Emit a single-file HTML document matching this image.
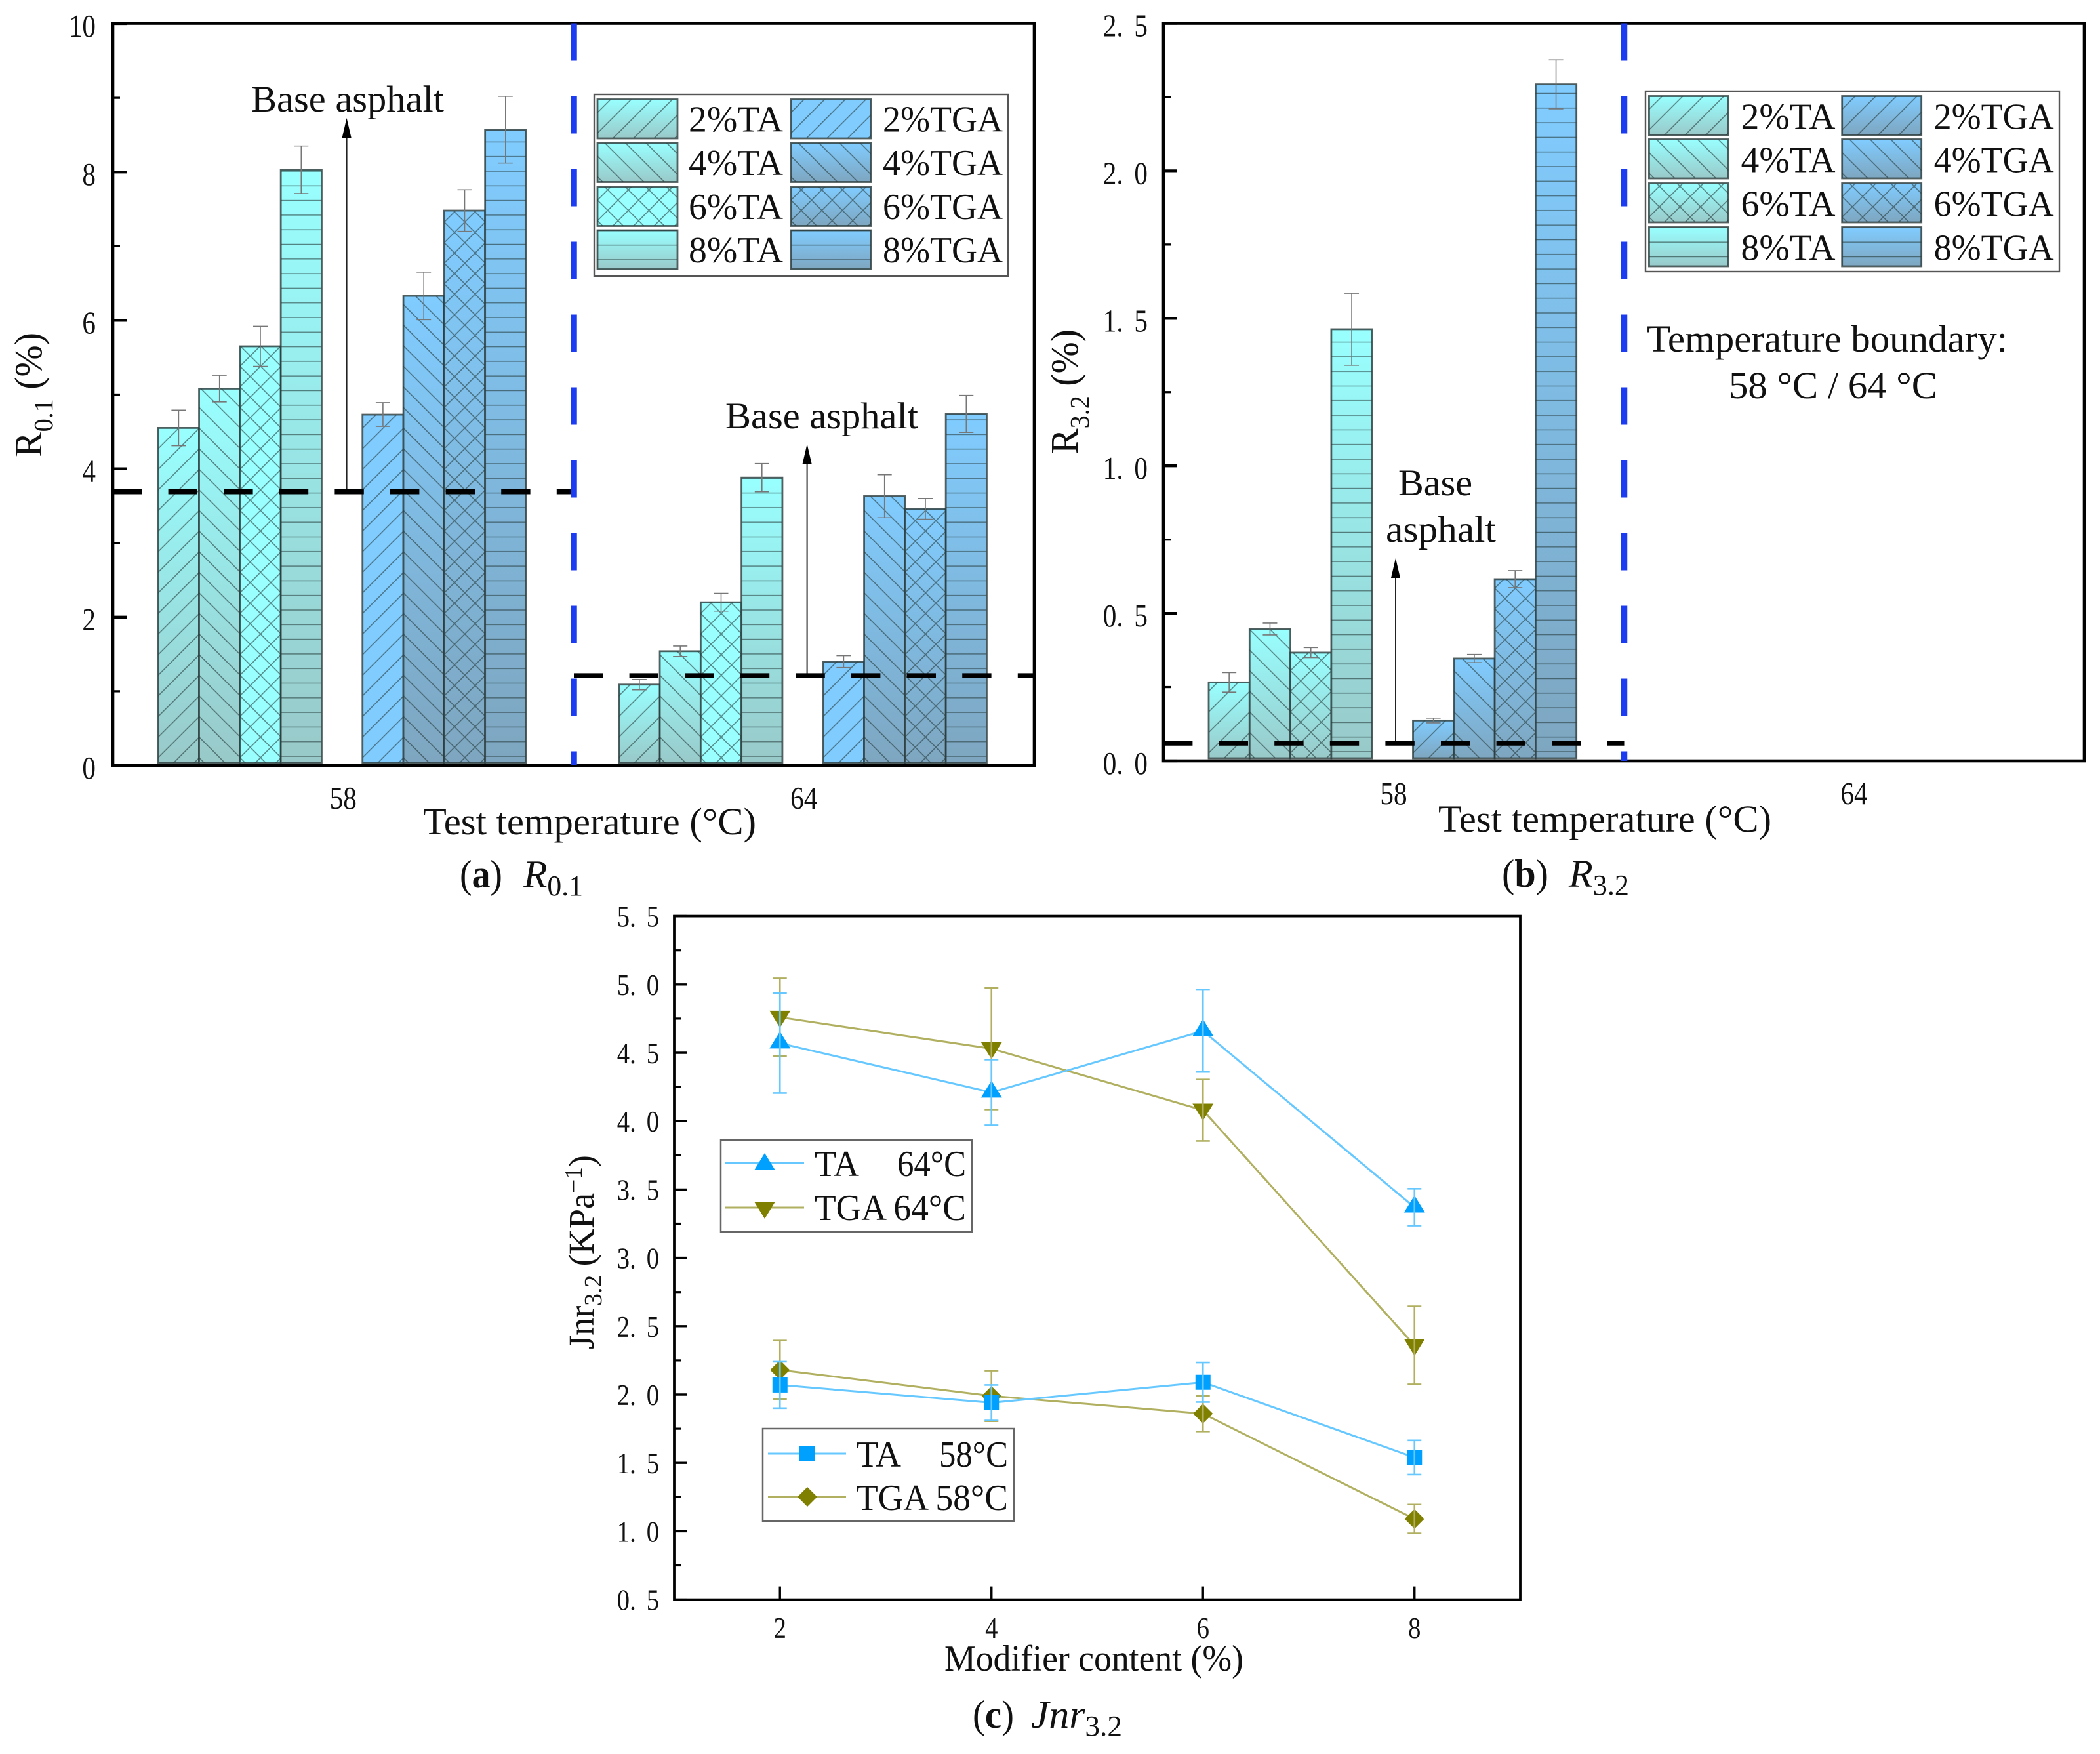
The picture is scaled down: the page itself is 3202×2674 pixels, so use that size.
<!DOCTYPE html>
<html lang="en">
<head>
<meta charset="utf-8">
<title>R0.1, R3.2 and Jnr3.2 of TA and TGA modified asphalt</title>
<style>
html,body{margin:0;padding:0;background:#fff}
svg{display:block}
text{font-family:"Liberation Serif","Noto Serif CJK SC",serif;fill:#111}
</style>
</head>
<body>
<svg id="fig" xmlns="http://www.w3.org/2000/svg" width="3202" height="2674" viewBox="0 0 3202 2674">
<defs id="defs">
<linearGradient id="g-ta" x1="0" y1="0" x2="0" y2="1"><stop offset="0" stop-color="#99ffff"/><stop offset="1" stop-color="#99c9c9"/></linearGradient>
<linearGradient id="g-tga" x1="0" y1="0" x2="0" y2="1"><stop offset="0" stop-color="#80ccff"/><stop offset="1" stop-color="#7ea6c0"/></linearGradient>
</defs>
<rect width="3202" height="2674" fill="#fff"/>
<g id="panel-a"></g>
<g id="panel-b"></g>
<g id="panel-c"></g>

<!-- panel a static text -->
<text transform="translate(63,697) rotate(-90)" font-size="59" textLength="190" lengthAdjust="spacingAndGlyphs">R<tspan dy="17" font-size="41">0.1</tspan><tspan dy="-17"> (%)</tspan></text>
<text x="645" y="1272" font-size="58" textLength="508" lengthAdjust="spacingAndGlyphs">Test temperature (°C)</text>
<text x="383" y="170" font-size="57" textLength="294" lengthAdjust="spacingAndGlyphs">Base asphalt</text>
<text x="1106" y="653" font-size="57" textLength="294" lengthAdjust="spacingAndGlyphs">Base asphalt</text>
<text x="701" y="1353" font-size="60" textLength="65" lengthAdjust="spacingAndGlyphs">(<tspan font-weight="bold">a</tspan>)</text>
<text x="798" y="1353" font-size="60" font-style="italic" textLength="91" lengthAdjust="spacingAndGlyphs">R<tspan dy="12" font-size="44" font-style="normal">0.1</tspan></text>

<!-- panel b static text -->
<text transform="translate(1643,692) rotate(-90)" font-size="59" textLength="190" lengthAdjust="spacingAndGlyphs">R<tspan dy="17" font-size="41">3.2</tspan><tspan dy="-17"> (%)</tspan></text>
<text x="2193" y="1268" font-size="58" textLength="508" lengthAdjust="spacingAndGlyphs">Test temperature (°C)</text>
<text x="2132" y="755" font-size="57" textLength="113" lengthAdjust="spacingAndGlyphs">Base</text>
<text x="2113" y="826" font-size="57" textLength="168" lengthAdjust="spacingAndGlyphs">asphalt</text>
<text x="2511" y="536" font-size="58" textLength="550" lengthAdjust="spacingAndGlyphs">Temperature boundary:</text>
<text x="2636" y="607" font-size="58" textLength="318" lengthAdjust="spacingAndGlyphs">58 °C / 64 °C</text>
<text x="2290" y="1352" font-size="60" textLength="71" lengthAdjust="spacingAndGlyphs">(<tspan font-weight="bold">b</tspan>)</text>
<text x="2392" y="1352" font-size="60" font-style="italic" textLength="92" lengthAdjust="spacingAndGlyphs">R<tspan dy="12" font-size="44" font-style="normal">3.2</tspan></text>

<!-- panel c static text -->
<text transform="translate(905,2057) rotate(-90)" font-size="55" textLength="296" lengthAdjust="spacingAndGlyphs">Jnr<tspan dy="12" font-size="38">3.2</tspan><tspan dy="-12"> (KPa</tspan><tspan dy="-18" font-size="38">−1</tspan><tspan dy="18">)</tspan></text>
<text x="1440" y="2547" font-size="56" textLength="456" lengthAdjust="spacingAndGlyphs">Modifier content (%)</text>
<text x="1483" y="2634" font-size="60" textLength="63" lengthAdjust="spacingAndGlyphs">(<tspan font-weight="bold">c</tspan>)</text>
<text x="1572" y="2634" font-size="60" font-style="italic" textLength="139" lengthAdjust="spacingAndGlyphs">Jnr<tspan dy="12" font-size="44" font-style="normal">3.2</tspan></text>

<!-- panel c legends -->
<g>
<rect x="1099" y="1738" width="383" height="140" fill="#fff" stroke="#666" stroke-width="2.5"/>
<line x1="1106" y1="1773" x2="1226" y2="1773" stroke="#66c8ff" stroke-width="3"/>
<polygon points="1166,1758 1182,1784 1150,1784" fill="#00a0ff"/>
<text x="1242" y="1793" font-size="56" textLength="68" lengthAdjust="spacingAndGlyphs">TA</text>
<text x="1368" y="1793" font-size="56" textLength="105" lengthAdjust="spacingAndGlyphs">64°C</text>
<line x1="1106" y1="1841" x2="1226" y2="1841" stroke="#b0b060" stroke-width="3"/>
<polygon points="1150,1832 1182,1832 1166,1858" fill="#808000"/>
<text x="1242" y="1860" font-size="56" textLength="231" lengthAdjust="spacingAndGlyphs">TGA 64°C</text>
</g>
<g>
<rect x="1163" y="2178" width="383" height="141" fill="#fff" stroke="#666" stroke-width="2.5"/>
<line x1="1171" y1="2216" x2="1290" y2="2216" stroke="#66c8ff" stroke-width="3"/>
<rect x="1219" y="2205" width="24" height="23" fill="#00a0ff"/>
<text x="1306" y="2236" font-size="56" textLength="68" lengthAdjust="spacingAndGlyphs">TA</text>
<text x="1432" y="2236" font-size="56" textLength="105" lengthAdjust="spacingAndGlyphs">58°C</text>
<line x1="1171" y1="2282" x2="1290" y2="2282" stroke="#b0b060" stroke-width="3"/>
<polygon points="1231,2267 1246,2282 1231,2297 1216,2282" fill="#808000"/>
<text x="1306" y="2302" font-size="56" textLength="231" lengthAdjust="spacingAndGlyphs">TGA 58°C</text>
</g>
</svg>

<script>
// ---------- chart data ----------
const temperatureLabels = ['58', '64'];
const seriesNames = ['2%TA', '4%TA', '6%TA', '8%TA', '2%TGA', '4%TGA', '6%TGA', '8%TGA'];

const r01Values58 = [4.55, 5.08, 5.65, 8.03, 4.73, 6.33, 7.48, 8.57];
const r01Errors58 = [0.24, 0.18, 0.27, 0.32, 0.16, 0.32, 0.28, 0.45];
const r01Values64 = [1.09, 1.54, 2.20, 3.88, 1.40, 3.63, 3.46, 4.74];
const r01Errors64 = [0.07, 0.07, 0.12, 0.19, 0.08, 0.29, 0.14, 0.25];
const r01Base58 = 3.69;
const r01Base64 = 1.21;
const r01Ticks = [0, 2, 4, 6, 8, 10];
const r01Minor = [1, 3, 5, 7, 9];

const r32Values58 = [0.266, 0.447, 0.367, 1.463, 0.137, 0.347, 0.616, 2.293];
const r32Errors58 = [0.033, 0.020, 0.017, 0.122, 0.008, 0.014, 0.029, 0.083];
const r32Base58 = 0.06;
const r32Ticks = [0, 0.5, 1.0, 1.5, 2.0, 2.5];
const r32Minor = [0.25, 0.75, 1.25, 1.75, 2.25];

const modifierContent = [2, 4, 6, 8];
const jnrTa64 = [4.57, 4.21, 4.66, 3.37];
const jnrTa64Err = [0.365, 0.24, 0.30, 0.135];
const jnrTga64 = [4.76, 4.53, 4.08, 2.36];
const jnrTga64Err = [0.285, 0.445, 0.225, 0.285];
const jnrTa58 = [2.07, 1.94, 2.09, 1.54];
const jnrTa58Err = [0.17, 0.13, 0.145, 0.125];
const jnrTga58 = [2.18, 1.99, 1.86, 1.09];
const jnrTga58Err = [0.215, 0.185, 0.13, 0.105];
const jnrTicks = [0.5, 1.0, 1.5, 2.0, 2.5, 3.0, 3.5, 4.0, 4.5, 5.0, 5.5];
const jnrMinor = [0.75, 1.25, 1.75, 2.25, 2.75, 3.25, 3.75, 4.25, 4.75, 5.25];

// ---------- helpers ----------
const NS = 'http://www.w3.org/2000/svg';
const defs = document.getElementById('defs');
function mk(tag, attrs, parent) {
  const el = document.createElementNS(NS, tag);
  for (const k in attrs) el.setAttribute(k, attrs[k]);
  parent.appendChild(el);
  return el;
}
let patternId = 0;
const HATCH_DIAG = 31.4, HATCH_H = 22.3, HATCH_COLOR = '#263c3c';
// Hatch index: 0 = /, 1 = \, 2 = x, 3 = horizontal; anchored to the bar's bottom-left corner
function hatchPattern(kind, x, bottom, hOffset) {
  const id = 'hatch-' + (patternId++);
  const size = kind === 3 ? HATCH_H : HATCH_DIAG;
  const h = size;
  const py = kind === 3 ? bottom - hOffset : bottom - 8;
  const p = mk('pattern', {id: id, patternUnits: 'userSpaceOnUse', x: x, y: py, width: kind === 3 ? 40 : h, height: h}, defs);
  const slash = `M-1,${h + 1}L${h + 1},-1M-1,1L1,-1M${h - 1},${h + 1}L${h + 1},${h - 1}`;
  const back = `M-1,-1L${h + 1},${h + 1}M${h - 1},-1L${h + 1},1M-1,${h - 1}L1,${h + 1}`;
  let d = '';
  if (kind === 0) d = slash;
  if (kind === 1) d = back;
  if (kind === 2) d = slash + back;
  if (kind === 3) d = `M0,0H40M0,${h}H40`;
  mk('path', {d: d, stroke: HATCH_COLOR, 'stroke-width': 1.5, 'stroke-opacity': 0.62, fill: 'none'}, p);
  return id;
}
function seriesFill(i, solidSet) {
  if (solidSet.includes(i)) return i < 4 ? '#99ffff' : '#80ccff';
  return i < 4 ? 'url(#g-ta)' : 'url(#g-tga)';
}
function yTick(parent, scale, v, x0, len, sw) {
  const t = mk('line', {x1: x0, x2: x0 + len, y1: scale(v), y2: scale(v), stroke: '#000', 'stroke-width': sw}, parent);
  
  
}
function yTickLabel(parent, v, rightX, y, size, decimals, gap) {
  const t = mk('text', {transform: `translate(${rightX},${y}) scale(0.84,1)`, 'font-size': size, 'text-anchor': 'end'}, parent);
  
  
  if (decimals) {
    const parts = v.toFixed(1).split('.');
    t.appendChild(document.createTextNode(parts[0] + '.'));
    const s = mk('tspan', {dx: gap}, t);
    s.textContent = parts[1];
  } else {
    t.textContent = String(v);
  }
}
function errorBar(parent, x, yHi, yLo, color, sw, capW) {
  const g = mk('g', {stroke: color, 'stroke-width': sw}, parent);
  
  
  mk('line', {x1: x, x2: x, y1: yHi, y2: yLo}, g);
  mk('line', {x1: x - capW / 2, x2: x + capW / 2, y1: yHi, y2: yHi}, g);
  mk('line', {x1: x - capW / 2, x2: x + capW / 2, y1: yLo, y2: yLo}, g);
}
function barPanel(panel, o) {
  const band = i => o.left + (o.right - o.left) * (i + 0.5) / 2;
  const slot = j => (j < 4 ? -282 + j * 62.3 : 29.5 + (j - 4) * 62.3);
  const hatchKind = j => j % 4;
  const barW = 62.3;
  const bottom = o.y(0) - 4;

  o.groups.forEach((g, gi) => {
    g.values.forEach((v, j) => {
      const x = band(gi) + slot(j);
      const top = o.y(v);
      const fill = mk('rect', {x: x, y: top, width: barW, height: bottom - top, fill: seriesFill(j, o.solid)}, panel);
      
      
      const hatch = mk('rect', {x: x, y: top, width: barW, height: bottom - top,
        fill: 'url(#' + hatchPattern(hatchKind(j), x, bottom, 10) + ')',
        stroke: '#2c3c3c', 'stroke-width': 2.8, 'stroke-opacity': 0.82}, panel);
      
      
    });
    g.values.forEach((v, j) => {
      const xc = band(gi) + slot(j) + barW / 2;
      errorBar(panel, xc, o.y(v + g.errors[j]), o.y(v - g.errors[j]), '#777777', 1.6, 22);
    });
  });

  // arrows from base-asphalt line
  o.groups.forEach((g, gi) => {
    if (g.arrowX === undefined) return;
    const a = mk('line', {x1: g.arrowX, x2: g.arrowX, y1: o.y(g.base), y2: g.arrowTop + 20, stroke: '#222', 'stroke-width': 2}, panel);
    
    
    const h = mk('polygon', {points: `${g.arrowX},${g.arrowTop} ${g.arrowX + 7},${g.arrowTop + 30} ${g.arrowX - 7},${g.arrowTop + 30}`, fill: '#000'}, panel);
    
    
  });

  // base asphalt dashed reference
  o.groups.forEach((g, gi) => {
    if (g.base === undefined) return;
    const x1 = gi === 0 ? o.left : o.divider;
    const x2 = gi === 0 ? o.divider : o.right;
    const l = mk('line', {x1: x1, x2: x2, y1: o.y(g.base), y2: o.y(g.base), stroke: '#000', 'stroke-width': 7.6, 'stroke-dasharray': '44.4 40.2'}, panel);
    
    
  });

  // frame
  const fr = mk('rect', {x: o.left, y: o.top, width: o.right - o.left, height: o.y(0) - o.top, fill: 'none', stroke: '#000', 'stroke-width': 4.6}, panel);
  
  

  // divider
  const dv = mk('line', {x1: o.divider, x2: o.divider, y1: o.top, y2: o.y(0), stroke: '#1c3cf2', 'stroke-width': 9.5, 'stroke-dasharray': '57 54'}, panel);
  
  

  // ticks
  o.ticks.forEach(v => {
    yTick(panel, o.y, v, o.left, 21, 4.3);
    yTickLabel(panel, v, o.labelRight, o.y(v) + 20, 49, o.decimals, 20);
  });
  o.minor.forEach(v => yTick(panel, o.y, v, o.left, 11, 3.3));
  temperatureLabels.forEach((lab, i) => {
    const t = mk('text', {transform: `translate(${band(i)},${o.xLabelY}) scale(0.84,1)`, 'font-size': 49, 'text-anchor': 'middle'}, panel);
    
    
    t.textContent = lab;
  });

  // legend
  const L = o.legend;
  const box = mk('rect', {x: L.x, y: L.y, width: L.w, height: L.h, fill: '#fff', stroke: '#555', 'stroke-width': 2.4}, panel);
  
  
  seriesNames.forEach((name, j) => {
    const col = j < 4 ? 0 : 1;
    const row = j % 4;
    const sx = L.swatchX[col], sy = L.rowY[row];
    const bg = mk('rect', {x: sx, y: sy, width: L.swW, height: L.swH, fill: seriesFill(j, o.solid)}, panel);
    
    
    const sw = mk('rect', {x: sx, y: sy, width: L.swW, height: L.swH,
      fill: 'url(#' + hatchPattern(hatchKind(j), sx, sy + L.swH, 14.5) + ')',
      stroke: '#2c3c3c', 'stroke-width': 2.8, 'stroke-opacity': 0.82}, panel);
    
    
    const t = mk('text', {x: L.textX[col], y: sy + L.baseline, 'font-size': 56, textLength: col ? 183 : 144, lengthAdjust: 'spacingAndGlyphs'}, panel);
    
    
    t.textContent = name;
  });
}

// ---------- panel (a) ----------
const yA = v => 1167 - v * 113.1;
barPanel(document.getElementById('panel-a'), {
  left: 172, right: 1577, top: 35.5, y: yA, divider: 875, labelRight: 146, xLabelY: 1233,
  ticks: r01Ticks, minor: r01Minor, decimals: false, solid: [2, 4],
  groups: [
    {values: r01Values58, errors: r01Errors58, base: r01Base58, arrowX: 528.6, arrowTop: 180},
    {values: r01Values64, errors: r01Errors64, base: r01Base64, arrowX: 1230.6, arrowTop: 677}
  ],
  legend: {x: 906, y: 144, w: 631, h: 277, swatchX: [911, 1206], rowY: [151.5, 218, 285, 351], swW: 122, swH: 59.5, textX: [1050, 1346], baseline: 49}
});

// ---------- panel (b) ----------
const yB = v => 1160 - v * 449.8;
barPanel(document.getElementById('panel-b'), {
  left: 1774, right: 3178, top: 35.5, y: yB, divider: 2476.5, labelRight: 1750, xLabelY: 1226,
  ticks: r32Ticks, minor: r32Minor, decimals: true, solid: [],
  groups: [
    {values: r32Values58, errors: r32Errors58, base: r32Base58, arrowX: 2128, arrowTop: 851},
    {values: [], errors: []}
  ],
  legend: {x: 2509, y: 139, w: 631, h: 275, swatchX: [2514.4, 2808.7], rowY: [146.5, 212.5, 279.5, 346.5], swW: 121, swH: 59.5, textX: [2654.5, 2948.6], baseline: 50}
});

// ---------- panel (c) ----------
const panelC = document.getElementById('panel-c');
const xC = v => 1028 + (v - 1) * 161.25;
const yC = v => 2438.6 - (v - 0.5) * 208.4;
const LIGHT_BLUE = '#66c8ff', BLUE = '#00a0ff', LIGHT_OLIVE = '#b0b060', OLIVE = '#808000';

function jnrSeries(name, values, errors, lineColor, markerColor, shape) {
  const pts = values.map((v, i) => xC(modifierContent[i]) + ',' + yC(v)).join(' ');
  const line = mk('polyline', {points: pts, fill: 'none', stroke: lineColor, 'stroke-width': 3}, panelC);
  
  
  values.forEach((v, i) => {
    const x = xC(modifierContent[i]), y = yC(v);
    let m;
    if (shape === 'up') m = mk('polygon', {points: `${x},${y - 18} ${x + 16},${y + 8} ${x - 16},${y + 8}`, fill: markerColor}, panelC);
    if (shape === 'down') m = mk('polygon', {points: `${x - 16},${y - 10} ${x + 16},${y - 10} ${x},${y + 16}`, fill: markerColor}, panelC);
    if (shape === 'square') m = mk('rect', {x: x - 11.5, y: y - 11.5, width: 23, height: 23, fill: markerColor}, panelC);
    if (shape === 'diamond') m = mk('polygon', {points: `${x},${y - 15} ${x + 15},${y} ${x},${y + 15} ${x - 15},${y}`, fill: markerColor}, panelC);
    
    
  });
  values.forEach((v, i) => {
    errorBar(panelC, xC(modifierContent[i]), yC(v + errors[i]), yC(v - errors[i]), lineColor, 2.6, 21);
  });
}
jnrSeries('tga-58', jnrTga58, jnrTga58Err, LIGHT_OLIVE, OLIVE, 'diamond');
jnrSeries('ta-58', jnrTa58, jnrTa58Err, LIGHT_BLUE, BLUE, 'square');
jnrSeries('tga-64', jnrTga64, jnrTga64Err, LIGHT_OLIVE, OLIVE, 'down');
jnrSeries('ta-64', jnrTa64, jnrTa64Err, LIGHT_BLUE, BLUE, 'up');

const frameC = mk('rect', {x: 1028, y: yC(5.5), width: 1290, height: yC(0.5) - yC(5.5), fill: 'none', stroke: '#000', 'stroke-width': 3.8}, panelC);


jnrTicks.forEach(v => {
  yTick(panelC, yC, v, 1028, 20, 3.4);
  yTickLabel(panelC, v, 1005, yC(v) + 16, 46, true, 19);
});
jnrMinor.forEach(v => yTick(panelC, yC, v, 1028, 10, 3.2));
modifierContent.forEach(v => {
  const tick = mk('line', {x1: xC(v), x2: xC(v), y1: yC(0.5), y2: yC(0.5) - 20, stroke: '#000', 'stroke-width': 3.4}, panelC);
  
  
  const t = mk('text', {transform: `translate(${xC(v)},2497) scale(0.84,1)`, 'font-size': 46, 'text-anchor': 'middle'}, panelC);
  
  
  t.textContent = String(v);
});
</script>
</body>
</html>
